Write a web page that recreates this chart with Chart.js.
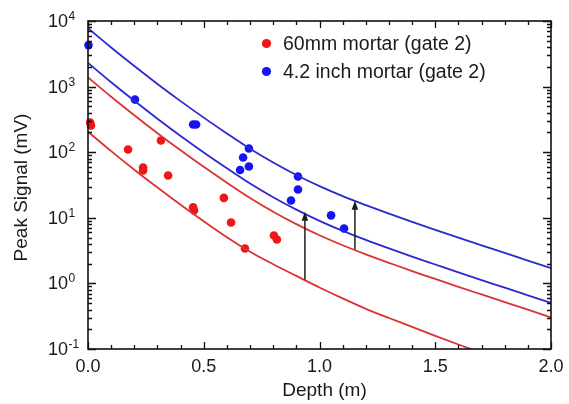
<!DOCTYPE html>
<html>
<head>
<meta charset="utf-8">
<script src="https://cdn.jsdelivr.net/npm/chart.js@4.4.1/dist/chart.umd.min.js"></script>
<style>
  html, body { margin: 0; padding: 0; background: #fff; }
  #wrap { width: 569px; height: 404px; }
</style>
</head>
<body>
<div id="wrap"><canvas id="c" width="569" height="404"></canvas></div>
<script>
// Depth grid for the model curves (m)
const depthGrid = [0.0, 0.1, 0.2, 0.3, 0.4, 0.5, 0.6, 0.7, 0.8, 0.9, 1.0,
                   1.1, 1.2, 1.3, 1.4, 1.5, 1.6, 1.7, 1.8, 1.9, 2.0];

// Model curves, peak signal (mV)
const fitBlueHigh = [7780, 3945, 2056, 1099, 601, 336.5, 192.8, 113, 69.7, 45.0, 30.4,
                     21.4, 15.6, 11.56, 8.67, 6.56, 4.99, 3.81, 2.92, 2.23, 1.71];
const fitBlueLow  = [2296, 1164, 607, 324, 177, 99.3, 56.9, 33.3, 20.6, 13.3, 8.97,
                     6.32, 4.60, 3.41, 2.56, 1.94, 1.47, 1.12, 0.861, 0.659, 0.505];
const fitRedHigh  = [1384, 701, 366, 195, 107, 59.8, 34.3, 20.1, 12.4, 8.0, 5.41,
                     3.81, 2.77, 2.06, 1.54, 1.17, 0.887, 0.678, 0.519, 0.397, 0.304];
const fitRedLow   = [204.6, 103.7, 54.1, 28.9, 15.8, 8.85, 5.07, 3.04, 1.96, 1.30, 0.867,
                     0.590, 0.41, 0.297, 0.218, 0.159, 0.117, 0.0873, 0.0653, 0.0489, 0.0366];

// Measured peaks, 60mm mortar (gate 2)
const depth60  = [0.009, 0.013, 0.173, 0.315, 0.238, 0.238, 0.346, 0.587, 0.454, 0.458, 0.618, 0.678, 0.803, 0.816];
const signal60 = [283, 255, 110, 151, 58.4, 52.6, 44.2, 20.1, 14.4, 12.9, 8.49, 3.41, 5.38, 4.68];

// Measured peaks, 4.2 inch mortar (gate 2)
const depth42  = [0.002, 0.203, 0.454, 0.467, 0.695, 0.670, 0.695, 0.657, 0.907, 0.907, 0.877, 1.050, 1.106];
const signal42 = [4290, 634, 264, 264, 114, 83, 60.5, 53.5, 42.6, 27, 18.4, 10.9, 6.88];

// Vertical arrows: depth, start and end signal (mV)
const arrowDepth = [0.937, 1.153];
const arrowFrom  = [1.15, 3.3];
const arrowTo    = [12.4, 18.2];

// Axis ticks
const xTickValues = [0, 0.5, 1.0, 1.5, 2.0];
const xTickLabels = ['0.0', '0.5', '1.0', '1.5', '2.0'];
const yTickExponents = [-1, 0, 1, 2, 3, 4];

const FONT = '"Liberation Sans", Arial, Helvetica, sans-serif';
const RED_PT = '#ee1616', BLUE_PT = '#1414f2';
const RED_LN = '#dc3232', BLUE_LN = '#2a2ad0';

const pts = (xs, ys) => xs.map((v, i) => ({ x: v, y: ys[i] }));

function curve(values, color) {
  return {
    type: 'line',
    data: pts(depthGrid, values),
    borderColor: color,
    borderWidth: 1.8,
    pointRadius: 0,
    fill: false,
    cubicInterpolationMode: 'monotone'
  };
}

const decor = {
  id: 'decor',
  afterDatasetsDraw(chart) {
    const { ctx, chartArea: a, scales: { x, y } } = chart;
    ctx.save();

    // arrows
    ctx.strokeStyle = '#1c1c1c';
    ctx.fillStyle = '#1c1c1c';
    ctx.lineWidth = 1.5;
    arrowDepth.forEach((d, i) => {
      const px = x.getPixelForValue(d);
      const y0 = y.getPixelForValue(arrowFrom[i]);
      const y1 = y.getPixelForValue(arrowTo[i]);
      ctx.beginPath();
      ctx.moveTo(px, y0);
      ctx.lineTo(px, y1 + 7);
      ctx.stroke();
      ctx.beginPath();
      ctx.moveTo(px, y1);
      ctx.lineTo(px - 3.3, y1 + 9);
      ctx.lineTo(px + 3.3, y1 + 9);
      ctx.closePath();
      ctx.fill();
    });

    // frame
    ctx.strokeStyle = '#111';
    ctx.lineWidth = 1.6;
    ctx.strokeRect(a.left, a.top, a.right - a.left, a.bottom - a.top);

    // inward tick marks
    ctx.lineWidth = 1.3;
    ctx.beginPath();
    for (let i = 0; i <= 20; i++) {
      const px = Math.round(x.getPixelForValue(i / 10)) + 0.5;
      const len = i % 5 === 0 ? 7 : 4;
      ctx.moveTo(px, a.bottom); ctx.lineTo(px, a.bottom - len);
      ctx.moveTo(px, a.top); ctx.lineTo(px, a.top + len);
    }
    yTickExponents.forEach(e => {
      const base = Math.pow(10, e);
      const py = Math.round(y.getPixelForValue(base)) + 0.5;
      ctx.moveTo(a.left, py); ctx.lineTo(a.left + 8, py);
      ctx.moveTo(a.right, py); ctx.lineTo(a.right - 8, py);
      if (e < 4) {
        for (let m = 2; m <= 9; m++) {
          const pm = Math.round(y.getPixelForValue(m * base)) + 0.5;
          ctx.moveTo(a.left, pm); ctx.lineTo(a.left + 4, pm);
          ctx.moveTo(a.right, pm); ctx.lineTo(a.right - 4, pm);
        }
      }
    });
    ctx.stroke();

    // tick labels
    ctx.fillStyle = '#1a1a1a';
    ctx.font = '18px ' + FONT;
    ctx.textAlign = 'center';
    ctx.textBaseline = 'middle';
    xTickValues.forEach((v, i) => {
      ctx.fillText(xTickLabels[i], x.getPixelForValue(v), a.bottom + 18);
    });
    yTickExponents.forEach(e => {
      const py = y.getPixelForValue(Math.pow(10, e));
      ctx.font = '18px ' + FONT;
      ctx.textAlign = 'right';
      ctx.textBaseline = 'middle';
      ctx.fillText('10', 68, py + 1);
      ctx.font = '12px ' + FONT;
      ctx.textAlign = 'left';
      ctx.textBaseline = 'alphabetic';
      ctx.fillText(e < 0 ? '-' + Math.abs(e) : String(e), 68.5, py - 1);
    });

    // axis titles
    ctx.font = '19px ' + FONT;
    ctx.textAlign = 'center';
    ctx.textBaseline = 'alphabetic';
    ctx.fillText('Depth (m)', (a.left + a.right) / 2 + 5, 396);
    ctx.save();
    ctx.translate(26.7, 187.5);
    ctx.rotate(-Math.PI / 2);
    ctx.fillText('Peak Signal (mV)', 0, 0);
    ctx.restore();

    // legend
    const items = chart.data.datasets.filter(ds => ds.label);
    items.forEach((ds, i) => {
      const ly = 43.5 + i * 28;
      ctx.fillStyle = ds.backgroundColor;
      ctx.beginPath();
      ctx.arc(266.5, ly, 4.6, 0, Math.PI * 2);
      ctx.fill();
      ctx.fillStyle = '#1a1a1a';
      ctx.font = '19.5px ' + FONT;
      ctx.textAlign = 'left';
      ctx.textBaseline = 'middle';
      ctx.fillText(ds.label, 283, ly + 1);
    });

    ctx.restore();
  }
};

new Chart(document.getElementById('c'), {
  type: 'scatter',
  data: {
    datasets: [
      curve(fitBlueHigh, BLUE_LN),
      curve(fitBlueLow, BLUE_LN),
      curve(fitRedHigh, RED_LN),
      curve(fitRedLow, RED_LN),
      {
        label: '60mm mortar (gate 2)',
        data: pts(depth60, signal60),
        backgroundColor: RED_PT,
        borderWidth: 0,
        pointRadius: 4.3,
        clip: false
      },
      {
        label: '4.2 inch mortar (gate 2)',
        data: pts(depth42, signal42),
        backgroundColor: BLUE_PT,
        borderWidth: 0,
        pointRadius: 4.3,
        clip: false
      }
    ]
  },
  options: {
    responsive: false,
    animation: false,
    devicePixelRatio: 1,
    layout: { padding: { left: 88, right: 18, top: 21, bottom: 55 } },
    plugins: { legend: { display: false }, tooltip: { enabled: false } },
    scales: {
      x: { type: 'linear', min: 0, max: 2, display: false },
      y: { type: 'logarithmic', min: 0.1, max: 10000, display: false }
    }
  },
  plugins: [decor]
});
</script>
</body>
</html>
